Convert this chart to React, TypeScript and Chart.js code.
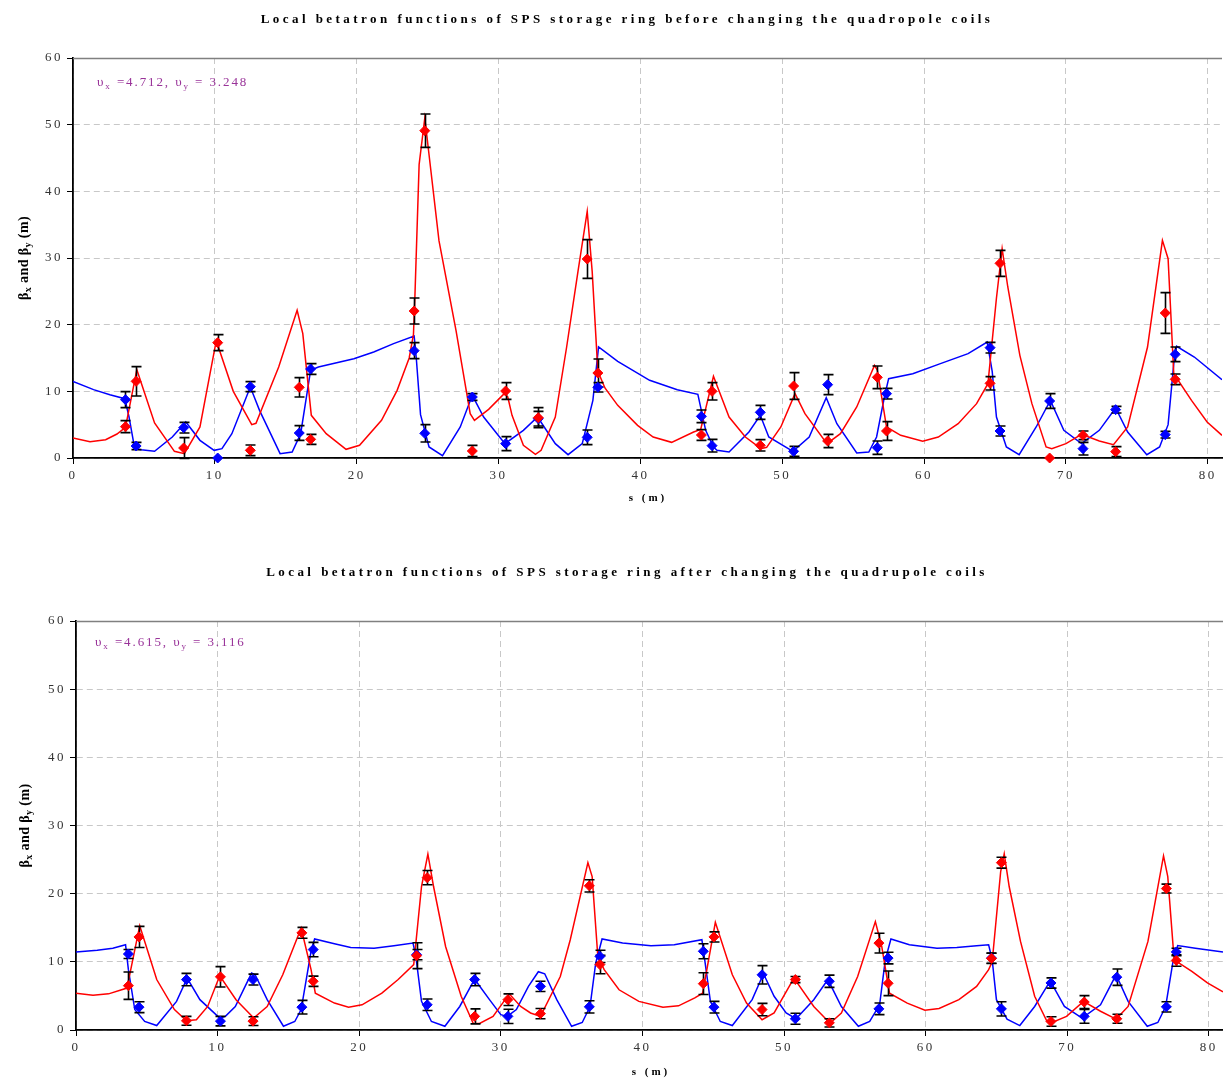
import React, { useEffect, useRef } from 'react';
import { Chart, registerables } from 'chart.js';

Chart.register(...registerables);

const SERIF = '"Liberation Serif", "Times New Roman", serif';

// ---------- measurement positions (m) ----------
const S_POS = [3.7, 4.45, 7.8, 10.2, 12.5, 15.95, 16.75, 24.05, 24.8, 28.15, 30.5, 32.8, 36.25, 37.0,
  44.3, 45.05, 48.45, 50.8, 53.2, 56.7, 57.35, 64.65, 65.35, 68.85, 71.2, 73.5, 77.0, 77.7];

// ---------- BEFORE: measured values ----------
const BEFORE_RED = [4.7, 11.5, 1.5, 17.3, 1.15, 10.6, 2.8, 22.05, 49.1, 1.05, 10.05, 6.05, 29.85, 12.75,
  3.45, 10.0, 1.9, 10.8, 2.55, 12.1, 4.05, 11.2, 29.2, 0.0, 3.4, 0.95, 21.75, 11.8];
const BEFORE_RED_ERR = [0.9, 2.2, 1.55, 1.2, 0.8, 1.45, 0.75, 1.95, 2.5, 0.85, 1.25, 1.5, 2.9, 2.1,
  0.8, 1.3, 0.85, 2.0, 1.0, 1.7, 1.4, 1.0, 1.95, 0, 0.65, 0.75, 3.05, 0.8];
const BEFORE_BLUE = [8.75, 1.8, 4.55, 0.0, 10.7, 3.75, 13.35, 16.1, 3.7, 9.15, 2.15, 5.9, 3.1, 10.6,
  6.25, 1.85, 6.85, 1.0, 11.0, 1.55, 9.65, 16.55, 4.05, 8.55, 1.4, 7.25, 3.5, 15.55];
const BEFORE_BLUE_ERR = [1.2, 0.55, 0.8, 0, 0.75, 1.1, 0.8, 1.2, 1.3, 0.5, 1.05, 1.1, 1.1, 0.7,
  0.95, 0.95, 1.05, 0.75, 1.5, 1.0, 0.8, 0.8, 0.75, 1.1, 0.95, 0.5, 0.5, 1.1];

// ---------- BEFORE: model curves ----------
const BEFORE_RED_LINE_S = [0, 1.2, 2.3, 3.1, 3.7, 4.5, 5.75, 7.15, 7.85, 8.95, 10.1, 11.3, 12.6, 12.9,
  14.5, 15.8, 16.2, 16.8, 17.85, 19.25, 20.2, 21.75, 22.85, 23.7, 24.0, 24.1, 24.4, 24.8, 25.8, 27.0,
  28.0, 28.3, 29.3, 30.4, 30.65, 30.95, 31.75, 32.6, 33.0, 34.0, 34.8, 35.6, 36.25, 36.6, 37.0, 37.5,
  38.4, 39.8, 40.9, 42.2, 43.75, 44.25, 45.15, 46.25, 47.4, 48.5, 48.9, 49.9, 50.9, 51.6, 53.15, 54.1,
  55.25, 56.5, 56.7, 57.35, 58.35, 59.9, 61.0, 62.4, 63.7, 64.5, 65.1, 65.5, 65.9, 66.75, 67.6, 68.6,
  69.0, 70.0, 71.1, 72.35, 73.35, 74.35, 75.75, 76.8, 77.2, 77.6, 78.85, 79.95, 81.0];
const BEFORE_RED_LINE_B = [3.0, 2.45, 2.75, 3.6, 4.6, 13.25, 5.25, 1.0, 0.65, 4.65, 17.6, 10.0, 5.0, 5.2,
  13.65, 22.15, 18.65, 6.4, 3.65, 1.3, 1.9, 5.65, 10.15, 15.0, 18.5, 24.0, 44.0, 51.0, 32.6, 19.15,
  6.65, 5.65, 7.3, 9.65, 9.15, 6.4, 1.9, 0.55, 1.15, 6.15, 16.65, 28.0, 37.0, 28.0, 13.0, 10.5,
  7.9, 4.9, 3.15, 2.35, 3.9, 4.3, 12.25, 6.15, 3.15, 1.4, 1.6, 4.65, 9.65, 6.65, 2.15, 3.65,
  7.65, 13.9, 13.2, 4.65, 3.4, 2.5, 3.15, 5.15, 8.15, 11.15, 24.0, 31.4, 25.65, 15.4, 8.15, 1.65,
  1.4, 2.15, 3.55, 2.55, 2.0, 4.65, 16.65, 32.65, 29.9, 12.65, 8.65, 5.4, 3.4];

const BEFORE_BLUE_LINE_S = [0, 1.45, 2.6, 3.65, 3.95, 4.35, 4.8, 5.75, 7.0, 7.95, 8.95, 9.95, 10.5, 11.2,
  12.5, 13.15, 14.6, 15.45, 16.05, 16.75, 17.3, 19.8, 21.2, 22.6, 24.05, 24.2, 24.5, 25.1, 26.05, 27.3,
  28.15, 28.95, 30.45, 31.75, 32.75, 34.0, 34.9, 35.9, 36.65, 37.05, 38.4, 40.65, 42.6, 44.05, 44.6,
  45.15, 45.4, 46.25, 47.65, 48.45, 49.05, 50.75, 51.9, 53.1, 53.85, 55.25, 56.1, 56.65, 57.2, 57.5,
  59.2, 61.15, 63.1, 64.45, 64.8, 65.1, 65.8, 66.7, 67.9, 68.9, 69.85, 71.1, 72.35, 73.5, 74.35, 75.7,
  76.6, 77.2, 77.6, 77.8, 79.05, 81.0];
const BEFORE_BLUE_LINE_B = [11.5, 10.25, 9.5, 8.9, 6.15, 1.4, 1.25, 1.0, 3.15, 5.4, 2.65, 1.15, 1.4, 3.65,
  10.65, 7.15, 0.65, 0.9, 3.65, 13.15, 13.65, 14.9, 15.9, 17.15, 18.3, 15.0, 6.5, 1.65, 0.35, 4.65,
  9.4, 6.15, 2.15, 4.15, 6.15, 2.15, 0.5, 2.15, 8.65, 16.65, 14.5, 11.65, 10.25, 9.55, 4.15,
  1.65, 1.15, 0.9, 3.9, 6.4, 3.15, 1.0, 3.15, 9.05, 5.15, 0.75, 0.9, 3.15, 9.15, 11.9,
  12.65, 14.15, 15.65, 17.4, 13.0, 6.15, 1.65, 0.5, 4.65, 8.65, 4.15, 2.15, 4.15, 7.5, 3.9, 0.5,
  1.65, 5.0, 14.15, 16.75, 15.15, 11.75];

// ---------- AFTER: measured values ----------
const AFTER_RED = [6.5, 13.65, 1.35, 7.8, 1.3, 14.25, 7.15, 10.9, 22.35, 2.0, 4.45, 2.4, 21.15, 9.6,
  6.8, 13.65, 3.0, 7.4, 1.05, 12.75, 6.85, 10.5, 24.55, 1.25, 4.1, 1.65, 20.75, 10.2];
const AFTER_RED_ERR = [2.0, 1.55, 0.65, 1.5, 0.65, 0.8, 0.75, 1.9, 1.05, 1.1, 0.85, 0.75, 0.9, 1.35,
  1.6, 0.75, 0.9, 0.45, 0.6, 1.45, 1.8, 0.75, 0.8, 0.7, 0.95, 0.65, 0.65, 0.85];
const AFTER_BLUE = [11.15, 3.35, 7.4, 1.3, 7.4, 3.35, 11.8, 11.05, 3.7, 7.4, 2.0, 6.4, 3.4, 10.8,
  11.55, 3.35, 8.1, 1.65, 7.15, 3.1, 10.55, 10.55, 3.1, 6.9, 2.0, 7.75, 3.4, 11.45];
const AFTER_BLUE_ERR = [0.65, 0.8, 0.9, 0.7, 0.8, 1.0, 1.05, 0.75, 0.85, 0.9, 1.05, 0.75, 0.9, 0.9,
  1.1, 0.85, 1.35, 0.8, 0.9, 0.85, 0.85, 0.75, 1.05, 0.75, 1.0, 1.2, 0.75, 0.55];

// ---------- AFTER: model curves ----------
const AFTER_RED_LINE_S = [0, 1.2, 2.3, 3.6, 4.5, 5.7, 6.95, 7.8, 8.5, 9.3, 10.15, 11.3, 12.55, 13.5, 14.6,
  15.9, 16.6, 16.9, 18.25, 19.25, 20.2, 21.6, 22.75, 23.85, 24.4, 24.85, 25.25, 26.1, 27.2, 28.05, 28.5,
  29.45, 30.6, 31.4, 32.1, 32.8, 34.2, 34.9, 36.15, 36.45, 36.85, 37.3, 38.35, 39.75, 41.45, 42.55,
  43.7, 44.25, 45.15, 46.35, 47.35, 48.45, 49.3, 50.7, 52.1, 53.25, 54.05, 55.2, 56.45, 56.9, 57.45,
  58.7, 59.95, 60.95, 62.35, 63.6, 64.45, 64.7, 65.3, 65.55, 65.9, 66.7, 67.7, 68.55, 69.1, 69.95,
  71.15, 72.35, 73.45, 74.3, 75.7, 76.8, 77.1, 77.55, 78.8, 79.9, 81.0];
const AFTER_RED_LINE_B = [5.4, 5.1, 5.3, 6.15, 15.3, 7.4, 3.0, 1.35, 1.5, 3.45, 7.95, 4.45, 1.75, 3.45, 8.1,
  14.95, 8.85, 5.4, 3.95, 3.35, 3.7, 5.4, 7.4, 9.6, 21.05, 25.8, 21.05, 12.25, 4.95, 1.0, 0.95,
  2.0, 5.3, 3.45, 2.5, 2.0, 7.85, 13.2, 24.55, 22.5, 10.8, 8.85, 5.9, 4.2, 3.35, 3.55,
  4.7, 5.4, 15.8, 8.1, 3.95, 1.5, 2.5, 7.6, 3.45, 1.0, 2.5, 7.85, 15.9, 12.25, 5.4,
  3.95, 2.9, 3.15, 4.45, 6.4, 8.85, 10.0, 23.25, 25.85, 21.05, 13.0, 4.95, 1.35, 1.25, 2.0,
  4.2, 2.75, 1.6, 3.45, 13.0, 25.55, 22.5, 10.3, 8.6, 6.9, 5.6];

const AFTER_BLUE_LINE_S = [0, 1.5, 2.6, 3.5, 3.7, 4.15, 4.85, 5.7, 7.1, 7.85, 8.75, 10.15, 10.55, 11.25,
  12.4, 12.65, 13.5, 14.65, 15.45, 15.9, 16.6, 16.85, 18.25, 19.4, 21.05, 22.45, 23.8, 24.0, 24.4, 25.1,
  26.05, 27.1, 28.15, 29.2, 30.0, 30.45, 31.1, 31.95, 32.65, 33.1, 33.95, 35.0, 35.75, 36.3, 36.7,
  37.15, 38.6, 40.6, 42.25, 44.2, 44.4, 44.8, 45.5, 46.35, 47.75, 48.55, 49.3, 50.15, 50.85, 52.1,
  53.1, 54.05, 55.25, 56.05, 56.75, 57.15, 57.55, 58.85, 60.8, 62.2, 63.6, 64.45, 64.7, 65.0, 65.75,
  66.65, 67.7, 68.8, 69.8, 71.05, 72.35, 73.45, 74.3, 75.65, 76.4, 76.95, 77.45, 77.8, 79.05, 81.0];
const AFTER_BLUE_LINE_B = [11.45, 11.7, 12.0, 12.5, 8.85, 3.0, 1.25, 0.65, 4.2, 7.6, 4.45, 1.75, 2.0, 3.45,
  8.35, 8.1, 4.45, 0.55, 1.25, 3.0, 11.55, 13.35, 12.65, 12.1, 12.0, 12.35, 12.75, 10.8, 4.2, 1.25,
  0.55, 3.45, 7.45, 4.45, 2.25, 2.0, 3.0, 6.4, 8.55, 8.25, 4.45, 0.55, 1.1, 3.45, 9.8,
  13.35, 12.75, 12.35, 12.5, 13.25, 10.3, 4.2, 1.25, 0.65, 4.45, 8.25, 4.95, 2.5, 1.65, 4.45,
  7.4, 3.45, 0.55, 1.25, 3.7, 10.3, 13.35, 12.5, 12.0, 12.1, 12.35, 12.5, 10.3, 4.45, 1.6,
  0.65, 3.45, 7.2, 3.45, 1.75, 3.7, 8.1, 4.2, 0.55, 1.1, 3.45, 9.8, 12.4, 12.0, 11.45];

// ---------- axis ----------
const S_MAX = 81;
const BETA_MAX = 60;
const TICK_STEP = 10;

const TITLE_BEFORE = 'Local betatron functions of SPS storage ring before changing the quadropole coils';
const TITLE_AFTER = 'Local betatron functions of SPS storage ring after changing the quadrupole coils';
const TUNE_BEFORE = ['4.712', '3.248'];
const TUNE_AFTER = ['4.615', '3.116'];

type Part = { t: string; sub?: boolean };

function drawRich(ctx: CanvasRenderingContext2D, parts: Part[], x: number, y: number, size: number,
  weight: string, color: string, spacing: number, align: 'left' | 'center') {
  const subSize = Math.round(size * 0.68);
  const fontFor = (p: Part) => `${weight} ${p.sub ? subSize : size}px ${SERIF}`;
  const widths = parts.map((p) => {
    ctx.font = fontFor(p);
    (ctx as any).letterSpacing = '0px';
    return ctx.measureText(p.t).width + spacing * p.t.length;
  });
  const total = widths.reduce((a, b) => a + b, 0);
  let cx = align === 'center' ? x - total / 2 : x;
  ctx.fillStyle = color;
  ctx.textAlign = 'left';
  ctx.textBaseline = 'middle';
  parts.forEach((p, i) => {
    ctx.font = fontFor(p);
    (ctx as any).letterSpacing = `${spacing}px`;
    ctx.fillText(p.t, cx, p.sub ? y + size * 0.3 : y);
    cx += widths[i];
  });
}

interface PanelCfg {
  height: number;
  title: string;
  tune: string[];
  lineRed: { s: number[]; b: number[] };
  lineBlue: { s: number[]; b: number[] };
  red: number[]; redErr: number[];
  blue: number[]; blueErr: number[];
  padTop: number; padBottom: number; padRight: number; yWidth: number;
  titleY: number; tuneX: number; tuneY: number; sLabelX: number; sLabelY: number; yLabelX: number;
}

function makePlugin(cfg: PanelCfg) {
  return {
    id: 'decor',
    beforeDraw(chart: any) {
      chart.ctx.letterSpacing = '2.5px';
    },
    afterDatasetDraw(chart: any, args: any) {
      if (args.index !== 2) return;
      const ctx: CanvasRenderingContext2D = chart.ctx;
      const xs = chart.scales.x;
      const ys = chart.scales.y;
      ctx.save();
      ctx.strokeStyle = '#000';
      ctx.lineWidth = 1.6;
      const bars = (vals: number[], errs: number[]) => {
        S_POS.forEach((s, i) => {
          const e = errs[i];
          if (!e) return;
          const px = Math.round(xs.getPixelForValue(s)) + 0.5;
          const y1 = ys.getPixelForValue(vals[i] + e);
          const y2 = ys.getPixelForValue(vals[i] - e);
          ctx.beginPath();
          ctx.moveTo(px, y1); ctx.lineTo(px, y2);
          ctx.moveTo(px - 5, y1); ctx.lineTo(px + 5, y1);
          ctx.moveTo(px - 5, y2); ctx.lineTo(px + 5, y2);
          ctx.stroke();
        });
      };
      bars(cfg.blue, cfg.blueErr);
      bars(cfg.red, cfg.redErr);
      ctx.restore();
    },
    afterDraw(chart: any) {
      const ctx: CanvasRenderingContext2D = chart.ctx;
      const a = chart.chartArea;
      ctx.save();
      // top frame line
      ctx.strokeStyle = '#808080';
      ctx.lineWidth = 1.5;
      ctx.beginPath();
      ctx.moveTo(a.left, a.top + 0.5);
      ctx.lineTo(a.right, a.top + 0.5);
      ctx.stroke();
      // title
      drawRich(ctx, [{ t: cfg.title }], 627, cfg.titleY, 13, 'bold', '#000', 3.45, 'center');
      // tune annotation
      drawRich(ctx, [
        { t: '\u03c5' }, { t: 'x', sub: true }, { t: ' =' + cfg.tune[0] + ', ' },
        { t: '\u03c5' }, { t: 'y', sub: true }, { t: ' = ' + cfg.tune[1] },
      ], cfg.tuneX, cfg.tuneY, 13, 'normal', '#993399', 1.9, 'left');
      // x-axis label
      drawRich(ctx, [{ t: 's (m)' }], cfg.sLabelX, cfg.sLabelY, 11, 'bold', '#000', 3, 'center');
      // y-axis label
      ctx.translate(cfg.yLabelX, (a.top + a.bottom) / 2);
      ctx.rotate(-Math.PI / 2);
      drawRich(ctx, [
        { t: '\u03b2' }, { t: 'x', sub: true }, { t: ' and ' },
        { t: '\u03b2' }, { t: 'y', sub: true }, { t: ' (m)' },
      ], 0, 0, 14, 'bold', '#000', 0.4, 'center');
      ctx.restore();
    },
  };
}

function buildConfig(cfg: PanelCfg): any {
  const pts = (xs: number[], ys: number[]) => xs.map((x, i) => ({ x, y: ys[i] }));
  const tickFont = { family: SERIF, size: 13 };
  return {
    type: 'scatter',
    data: {
      datasets: [
        {
          data: pts(S_POS, cfg.red), pointStyle: 'rectRot', pointRadius: 5,
          backgroundColor: '#ff0000', borderColor: '#ff0000', borderWidth: 1, showLine: false, clip: false,
        },
        {
          data: pts(S_POS, cfg.blue), pointStyle: 'rectRot', pointRadius: 5,
          backgroundColor: '#0000ff', borderColor: '#0000ff', borderWidth: 1, showLine: false, clip: false,
        },
        {
          type: 'line', data: pts(cfg.lineRed.s, cfg.lineRed.b), borderColor: '#ff0000', borderWidth: 1.5,
          pointRadius: 0, tension: 0, fill: false,
        },
        {
          type: 'line', data: pts(cfg.lineBlue.s, cfg.lineBlue.b), borderColor: '#0000ff', borderWidth: 1.5,
          pointRadius: 0, tension: 0, fill: false,
        },
      ],
    },
    options: {
      animation: false,
      responsive: false,
      devicePixelRatio: 1,
      events: [],
      layout: { autoPadding: false, padding: { top: cfg.padTop, bottom: cfg.padBottom, left: 0, right: cfg.padRight } },
      plugins: { legend: { display: false }, tooltip: { enabled: false }, title: { display: false } },
      scales: {
        x: {
          type: 'linear', min: 0, max: S_MAX, position: 'bottom',
          ticks: { stepSize: TICK_STEP, includeBounds: false, autoSkip: false, maxRotation: 0, font: tickFont, color: '#333', padding: 4 },
          grid: { color: '#c8c8c8', lineWidth: 1, tickLength: 6, tickColor: '#000', drawTicks: true },
          border: { display: true, color: '#000', width: 1.8, dash: [6, 4] },
          afterFit: (s: any) => { s.height = 30; s.paddingLeft = 0; s.paddingRight = 0; },
        },
        y: {
          type: 'linear', min: 0, max: BETA_MAX,
          ticks: { stepSize: TICK_STEP, font: tickFont, color: '#333', padding: 4 },
          grid: { color: '#c8c8c8', lineWidth: 1, tickLength: 6, tickColor: '#000', drawTicks: true },
          border: { display: true, color: '#000', width: 1.8, dash: [6, 4] },
          afterFit: (s: any) => { s.width = cfg.yWidth; s.paddingTop = 0; s.paddingBottom = 0; },
        },
      },
    },
    plugins: [makePlugin(cfg)],
  };
}

function Panel({ cfg }: { cfg: PanelCfg }) {
  const ref = useRef<HTMLCanvasElement>(null);
  useEffect(() => {
    const chart = new Chart(ref.current as HTMLCanvasElement, buildConfig(cfg));
    return () => chart.destroy();
  }, []);
  return (
    <div style={{ width: 1223, height: cfg.height, position: 'relative' }}>
      <canvas ref={ref} width={1223} height={cfg.height} style={{ display: 'block' }} />
    </div>
  );
}

const BEFORE_CFG: PanelCfg = {
  height: 540,
  title: TITLE_BEFORE,
  tune: TUNE_BEFORE,
  lineRed: { s: BEFORE_RED_LINE_S, b: BEFORE_RED_LINE_B },
  lineBlue: { s: BEFORE_BLUE_LINE_S, b: BEFORE_BLUE_LINE_B },
  red: BEFORE_RED, redErr: BEFORE_RED_ERR, blue: BEFORE_BLUE, blueErr: BEFORE_BLUE_ERR,
  padTop: 58, padBottom: 52, padRight: 1, yWidth: 73,
  titleY: 20, tuneX: 97, tuneY: 83, sLabelX: 648, sLabelY: 498, yLabelX: 24,
};

const AFTER_CFG: PanelCfg = {
  height: 539,
  title: TITLE_AFTER,
  tune: TUNE_AFTER,
  lineRed: { s: AFTER_RED_LINE_S, b: AFTER_RED_LINE_B },
  lineBlue: { s: AFTER_BLUE_LINE_S, b: AFTER_BLUE_LINE_B },
  red: AFTER_RED, redErr: AFTER_RED_ERR, blue: AFTER_BLUE, blueErr: AFTER_BLUE_ERR,
  padTop: 81, padBottom: 19, padRight: 0, yWidth: 76,
  titleY: 33, tuneX: 95, tuneY: 103, sLabelX: 651, sLabelY: 532, yLabelX: 25,
};

export default function App() {
  return (
    <div style={{ position: 'absolute', left: 0, top: 0, width: 1223, height: 1079, background: '#fff' }}>
      <Panel cfg={BEFORE_CFG} />
      <Panel cfg={AFTER_CFG} />
    </div>
  );
}
